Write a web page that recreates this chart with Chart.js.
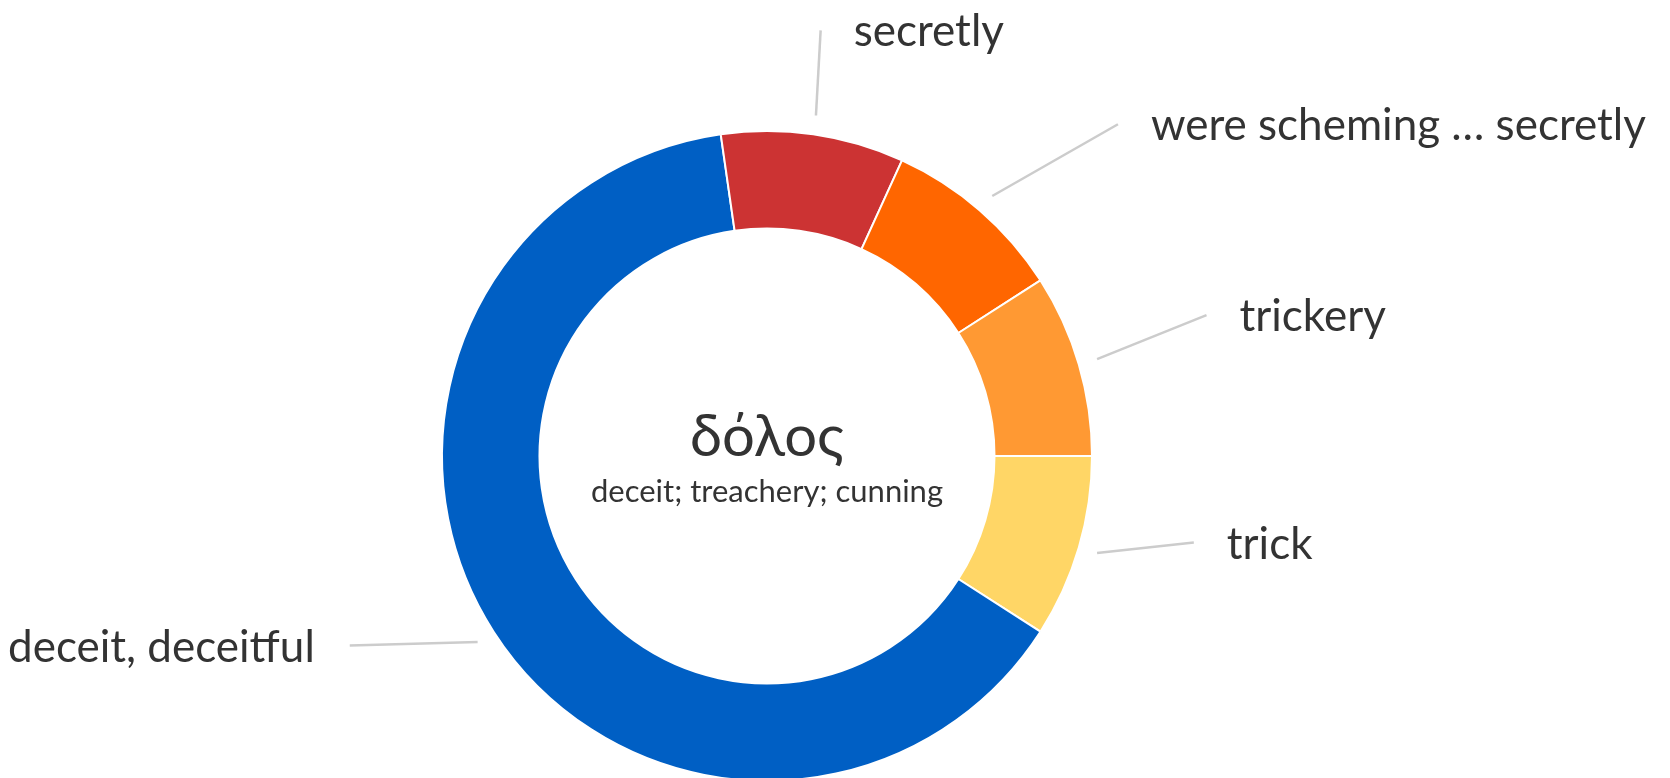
<!DOCTYPE html>
<html>
<head>
<meta charset="utf-8">
<script src="https://cdn.jsdelivr.net/npm/chart.js@4/dist/chart.umd.min.js"></script>
<style>
  html, body { margin: 0; padding: 0; overflow: hidden; background: #fff; }
  #wrap { width: 1670px; height: 912px; }
</style>
</head>
<body>
<div id="wrap"><canvas id="chartDolos"></canvas></div>
<script>
// Datos: glosas de δόλος y número de apariciones
const etiquetas = ["trick", "deceit, deceitful", "secretly", "were scheming … secretly", "trickery"];
const valores = [1, 7, 1, 1, 1];
const colores = ["#FFD666", "#005FC4", "#CC3333", "#FF6600", "#FF9933"];

const palabra = "δόλος";
const significado = "deceit; treachery; cunning";

// Ajustes de las líneas guía (radio final relativo y giro en grados)
const guiaRadio = [1.34, 1.41, 1.32, 1.486, 1.42];
const guiaGiro = [-4.9, 8.3, -1.0, 5.7, -1.4];

const FUENTE = "Lato, 'Noto Sans', sans-serif";
const GRIS_TEXTO = "#333333";

// Plugin para etiquetas exteriores y texto central
const etiquetasExteriores = {
  id: "etiquetasExteriores",
  afterDatasetsDraw(chart) {
    const ctx = chart.ctx;
    const arcos = chart.getDatasetMeta(0).data;
    ctx.save();
    arcos.forEach((arco, i) => {
      const { x, y, startAngle, endAngle, outerRadius } = arco.getProps(
        ["x", "y", "startAngle", "endAngle", "outerRadius"], true
      );
      const medio = (startAngle + endAngle) / 2;
      const r0 = outerRadius + 19;
      const ang1 = medio + (guiaGiro[i] * Math.PI) / 180;
      const r1 = outerRadius * guiaRadio[i];
      const x0 = x + Math.cos(medio) * r0;
      const y0 = y + Math.sin(medio) * r0;
      const x1 = x + Math.cos(ang1) * r1;
      const y1 = y + Math.sin(ang1) * r1;

      ctx.strokeStyle = "#cccccc";
      ctx.lineWidth = 2.5;
      ctx.beginPath();
      ctx.moveTo(x0, y0);
      ctx.lineTo(x1, y1);
      ctx.stroke();

      const derecha = Math.cos(medio) >= 0;
      ctx.fillStyle = GRIS_TEXTO;
      ctx.font = "44px " + FUENTE;
      ctx.textAlign = derecha ? "left" : "right";
      ctx.textBaseline = "alphabetic";
      ctx.fillText(etiquetas[i], derecha ? x1 + 33 : x1 - 35, y1 + 16);
    });

    // Texto central
    const cx = arcos[0].x;
    const cy = arcos[0].y;
    ctx.textAlign = "center";
    ctx.fillStyle = GRIS_TEXTO;
    ctx.font = "58px " + FUENTE;
    ctx.fillText(palabra, cx, cy);
    ctx.font = "31px " + FUENTE;
    ctx.fillText(significado, cx, cy + 46);
    ctx.restore();
  },
};

function crearGraficoDolos() {
  const ctx = document.getElementById("chartDolos").getContext("2d");
  new Chart(ctx, {
    type: "doughnut",
    data: {
      labels: etiquetas,
      datasets: [
        {
          data: valores,
          backgroundColor: colores,
          borderColor: "#ffffff",
          borderWidth: 2,
          hoverOffset: 0,
        },
      ],
    },
    options: {
      responsive: true,
      maintainAspectRatio: false,
      animation: false,
      rotation: 90,
      cutout: "70%",
      layout: {
        padding: { left: 441, right: 577, top: 130, bottom: 130 },
      },
      plugins: {
        legend: { display: false },
        tooltip: { enabled: false },
      },
    },
    plugins: [etiquetasExteriores],
  });
}

crearGraficoDolos();
</script>
</body>
</html>
